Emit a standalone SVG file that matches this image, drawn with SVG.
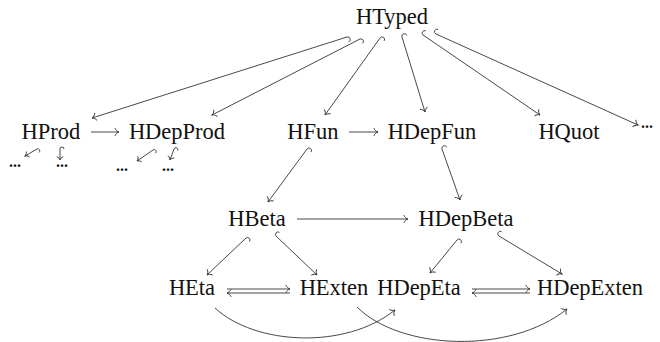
<svg xmlns="http://www.w3.org/2000/svg" width="660" height="342" viewBox="0 0 660 342" font-family="'Liberation Serif', 'DejaVu Serif', serif">
<defs>
<marker id="to" markerUnits="userSpaceOnUse" markerWidth="12" markerHeight="12" viewBox="-6 -6 12 12" refX="0" refY="0" orient="auto">
<path d="M -4,-3.6 C -3.2,-1.6 -1.4,-0.4 0,0 C -1.4,0.4 -3.2,1.6 -4,3.6" fill="none" stroke="#333" stroke-width="0.9" stroke-linecap="round"/>
</marker>
<marker id="toS" markerUnits="userSpaceOnUse" markerWidth="12" markerHeight="12" viewBox="-6 -6 12 12" refX="0" refY="0" orient="auto-start-reverse">
<path d="M -4,-3.6 C -3.2,-1.6 -1.4,-0.4 0,0 C -1.4,0.4 -3.2,1.6 -4,3.6" fill="none" stroke="#333" stroke-width="0.9" stroke-linecap="round"/>
</marker>
<marker id="tos" markerUnits="userSpaceOnUse" markerWidth="10" markerHeight="10" viewBox="-5 -5 10 10" refX="0" refY="0" orient="auto">
<path d="M -3.2,-3 C -2.6,-1.3 -1.1,-0.3 0,0 C -1.1,0.3 -2.6,1.3 -3.2,3" fill="none" stroke="#333" stroke-width="0.9" stroke-linecap="round"/>
</marker>
</defs>
<style>
text{font-family:"Liberation Serif","DejaVu Serif",serif;font-size:22.5px;fill:#111;text-anchor:middle}
.dots{font-size:16px;font-weight:bold}
.c{fill:none;stroke:#333;stroke-width:0.9}
.a{marker-end:url(#to)}
.s{marker-end:url(#tos)}
</style>
<g id="connectors">
<path class="c a" d="M 348.5 41.8 A 2.5 2.5 0 0 0 347 37 L 92 118"/>
<path class="c a" d="M 362.3 43.4 A 2.5 2.5 0 0 0 360 39 L 212 115"/>
<path class="c a" d="M 384.1 40.9 A 2.5 2.5 0 0 0 380 38 L 325 115"/>
<path class="c a" d="M 406.8 35.5 A 2.5 2.5 0 0 0 402 37 L 425 112"/>
<path class="c a" d="M 425.8 30.9 A 2.5 2.5 0 0 0 423 35 L 540 115"/>
<path class="c a" d="M 438.1 29.4 A 2.5 2.5 0 0 0 436 34 L 638 125"/>
<path class="c a" d="M 91 132 L 119 132"/>
<path class="c a" d="M 349 132 L 378 132"/>
<path class="c s" d="M 38.9 152.5 A 2 2 0 0 0 37 149 L 25 156"/>
<path class="c s" d="M 64 149 A 2 2 0 0 0 60 149 L 60 160"/>
<path class="c s" d="M 155.4 153.2 A 2 2 0 0 0 153 150 L 137 161"/>
<path class="c s" d="M 177.8 150.4 A 2 2 0 0 0 174 149 L 170 160"/>
<path class="c a" d="M 311 152 A 2.5 2.5 0 0 0 307 149 L 268 202"/>
<path class="c a" d="M 446.7 147.3 A 2.5 2.5 0 0 0 442 149 L 460 200"/>
<path class="c a" d="M 297 219 L 408 219"/>
<path class="c a" d="M 249.4 241.6 A 2.5 2.5 0 0 0 246 238 L 207 275"/>
<path class="c a" d="M 279.4 232.4 A 2.5 2.5 0 0 0 276 236 L 317 275"/>
<path class="c a" d="M 460.9 243.2 A 2.5 2.5 0 0 0 457 240 L 430 273"/>
<path class="c a" d="M 501.6 231.7 A 2.5 2.5 0 0 0 499 236 L 562 274"/>
<path class="c a" d="M 227 289 L 290 289"/>
<path class="c" marker-start="url(#toS)" d="M 227 293 L 290 293"/>
<path class="c a" d="M 472 289 L 530 289"/>
<path class="c" marker-start="url(#toS)" d="M 472 293 L 530 293"/>
<path class="c a" d="M 215 308 C 255 345 345 350 395 310"/>
<path class="c a" d="M 357 307 C 400 350 510 355 567 309"/>
</g>
<g id="HTyped"><text x="392" y="24">HTyped</text></g>
<g id="HProd"><text x="51" y="139">HProd</text></g>
<g id="HDepProd"><text x="177" y="139">HDepProd</text></g>
<g id="HFun"><text x="313" y="139">HFun</text></g>
<g id="HDepFun"><text x="432" y="139">HDepFun</text></g>
<g id="HQuot"><text x="569" y="139">HQuot</text></g>
<g id="dotsTop"><text class="dots" x="647" y="128">...</text></g>
<g id="dots1"><text class="dots" x="15" y="167">...</text></g>
<g id="dots2"><text class="dots" x="62" y="167">...</text></g>
<g id="dots3"><text class="dots" x="122" y="171">...</text></g>
<g id="dots4"><text class="dots" x="168" y="171">...</text></g>
<g id="HBeta"><text x="257" y="226">HBeta</text></g>
<g id="HDepBeta"><text x="466" y="226">HDepBeta</text></g>
<g id="HEta"><text x="192" y="295">HEta</text></g>
<g id="HExten"><text x="334" y="295">HExten</text></g>
<g id="HDepEta"><text x="419" y="295">HDepEta</text></g>
<g id="HDepExten"><text x="590" y="295">HDepExten</text></g>
</svg>
